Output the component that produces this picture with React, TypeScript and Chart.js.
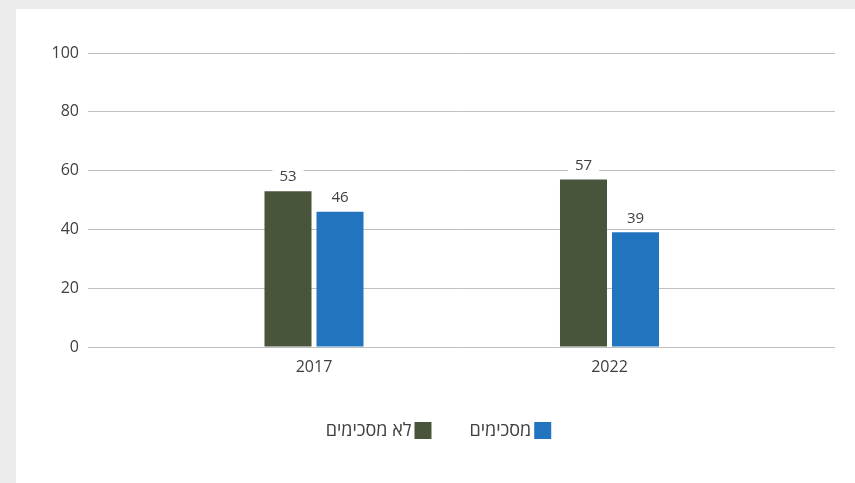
import React, { useEffect, useRef } from 'react';
import { Chart, registerables } from 'chart.js';

Chart.register(...registerables);

const categories = ['2017', '2022'];
const disagree = [53, 57];
const agree = [46, 39];
const seriesNames = ['לא מסכימים', 'מסכימים'];
const seriesColors = ['#48553a', '#2374bf'];
const yMin = 0;
const yMax = 100;
const yStep = 20;

const FONT = "'Open Sans', 'Noto Sans', sans-serif";
const TEXT = '#404040';

const valueLabels = {
  id: 'valueLabels',
  afterDatasetsDraw(chart: any) {
    const ctx = chart.ctx;
    ctx.save();
    ctx.font = `15px ${FONT}`;
    ctx.textAlign = 'center';
    ctx.textBaseline = 'middle';
    chart.data.datasets.forEach((ds: any, di: number) => {
      const meta = chart.getDatasetMeta(di);
      meta.data.forEach((bar: any, i: number) => {
        const text = String(ds.data[i].y);
        const w = ctx.measureText(text).width + 14;
        const cy = bar.y - 14;
        ctx.fillStyle = '#ffffff';
        ctx.fillRect(bar.x - w / 2, cy - 9, w, 18);
        ctx.fillStyle = TEXT;
        ctx.fillText(text, bar.x, cy);
      });
    });
    ctx.restore();
  },
};

// Right-to-left legend: box on the right of each label, first dataset item on the left.
const rtlLegend = {
  id: 'rtlLegend',
  afterDraw(chart: any) {
    const ctx = chart.ctx;
    const box = 17;
    const textGap = 3;
    const itemGap = 38;
    ctx.save();
    ctx.font = `18px ${FONT}`;
    ctx.textAlign = 'right';
    ctx.textBaseline = 'middle';
    const items = chart.data.datasets.map((ds: any) => ({
      text: ds.label,
      color: ds.backgroundColor,
      w: ctx.measureText(ds.label).width,
    }));
    const total =
      items.reduce((s: number, it: any) => s + box + textGap + it.w, 0) +
      itemGap * (items.length - 1);
    const cy = chart.height - 52.5;
    let x = chart.width / 2 + 3 + total / 2;
    for (let i = items.length - 1; i >= 0; i--) {
      const it = items[i];
      ctx.fillStyle = it.color;
      ctx.fillRect(x - box, cy - box / 2, box, box);
      ctx.fillStyle = TEXT;
      ctx.fillText(it.text, x - box - textGap, cy + 0.5);
      x -= box + textGap + it.w + itemGap;
    }
    ctx.restore();
  },
};

export default function App() {
  const ref = useRef<HTMLCanvasElement | null>(null);

  useEffect(() => {
    if (!ref.current) return;
    const chart = new Chart(ref.current, {
      type: 'bar',
      data: {
        datasets: [
          {
            label: seriesNames[0],
            data: categories.map((_, i) => ({ x: i, y: disagree[i] })),
            backgroundColor: seriesColors[0],
          },
          {
            label: seriesNames[1],
            data: categories.map((_, i) => ({ x: i, y: agree[i] })),
            backgroundColor: seriesColors[1],
          },
        ],
      },
      options: {
        animation: false,
        responsive: false,
        devicePixelRatio: 1,
        categoryPercentage: 0.352,
        barPercentage: 0.904,
        layout: { padding: { top: 44, right: 20, bottom: 95.5, left: 0 } },
        scales: {
          x: {
            type: 'linear',
            offset: false,
            min: -226 / 295.5,
            max: 1 + 225.5 / 295.5,
            grid: { display: false, drawTicks: false },
            border: { display: false },
            afterBuildTicks: (scale: any) => {
              scale.ticks = categories.map((_, i) => ({ value: i }));
            },
            afterFit: (scale: any) => {
              scale.height = 40.5;
            },
            ticks: {
              padding: 11,
              autoSkip: false,
              maxRotation: 0,
              color: TEXT,
              font: { family: FONT, size: 16 },
              callback: (v: any) => categories[Number(v)] ?? '',
            },
          },
          y: {
            min: yMin,
            max: yMax,
            grid: { color: '#c0c0c0', lineWidth: 1, drawTicks: false },
            border: { display: false },
            afterFit: (scale: any) => {
              scale.width = 72;
            },
            ticks: {
              stepSize: yStep,
              padding: 9,
              color: TEXT,
              font: { family: FONT, size: 16 },
            },
          },
        },
        plugins: {
          tooltip: { enabled: false },
          legend: { display: false },
        },
      },
      plugins: [valueLabels, rtlLegend],
    } as any);
    return () => chart.destroy();
  }, []);

  return (
    <div
      style={{
        position: 'fixed',
        left: 0,
        top: 0,
        width: 855,
        height: 483,
        background: '#ececec',
      }}
    >
      <div
        style={{
          position: 'absolute',
          left: 16,
          top: 9,
          width: 839,
          height: 474,
          background: '#ffffff',
        }}
      >
        <canvas ref={ref} width={839} height={474} style={{ display: 'block' }} />
      </div>
    </div>
  );
}
